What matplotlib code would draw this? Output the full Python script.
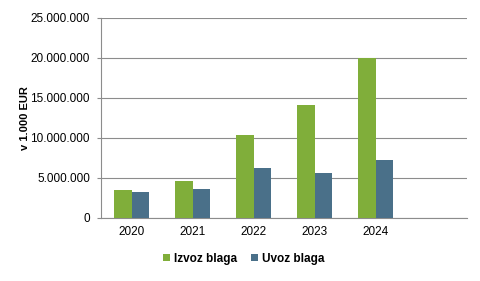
import matplotlib
matplotlib.use("Agg")
import matplotlib.pyplot as plt
import numpy as np
from matplotlib.ticker import FuncFormatter

plt.rcParams["font.family"] = ["Liberation Sans", "DejaVu Sans"]

years = ["2020", "2021", "2022", "2023", "2024", ""]
izvoz = [3.5e6, 4.6e6, 10.4e6, 14.1e6, 20.0e6, np.nan]
uvoz = [3.2e6, 3.6e6, 6.2e6, 5.6e6, 7.25e6, np.nan]

GREEN = "#80ae3a"
BLUE = "#4a7089"
GRID = "#8c8c8c"

fig = plt.figure(figsize=(4.81, 2.81), dpi=100)
ax = fig.add_axes([101 / 481, 1 - 218 / 281, 366 / 481, 200 / 281])

x = np.arange(len(years))
w = 0.28
ax.bar(x - w / 2, izvoz, w, color=GREEN, label="Izvoz blaga", zorder=3)
ax.bar(x + w / 2, uvoz, w, color=BLUE, label="Uvoz blaga", zorder=3)

ax.set_xlim(-0.5, len(years) - 0.5)
ax.set_ylim(0, 25e6)
ax.set_yticks(np.arange(0, 25e6 + 1, 5e6))
ax.yaxis.set_major_formatter(FuncFormatter(lambda v, p: f"{int(v):,}".replace(",", ".")))
ax.set_xticks(x)
ax.set_xticklabels(years)
ax.grid(axis="y", color=GRID, linewidth=0.8, zorder=0)

for s in ["top", "right"]:
    ax.spines[s].set_visible(False)
for s in ["left", "bottom"]:
    ax.spines[s].set_color(GRID)
    ax.spines[s].set_linewidth(0.8)

ax.tick_params(axis="y", length=3, color=GRID, labelsize=8.5, pad=5)
ax.tick_params(axis="x", length=0, labelsize=8.5, pad=6)
ax.set_ylabel("v 1.000 EUR", fontsize=8, fontweight="bold", labelpad=0)

ax.legend(loc="upper center", bbox_to_anchor=(0.39, -0.12), ncol=2, frameon=False,
          handlelength=0.6, handleheight=0.6, handletextpad=0.3,
          columnspacing=1.2, prop={"weight": "bold", "size": 8.5})

fig.savefig("out.png", dpi=100)
